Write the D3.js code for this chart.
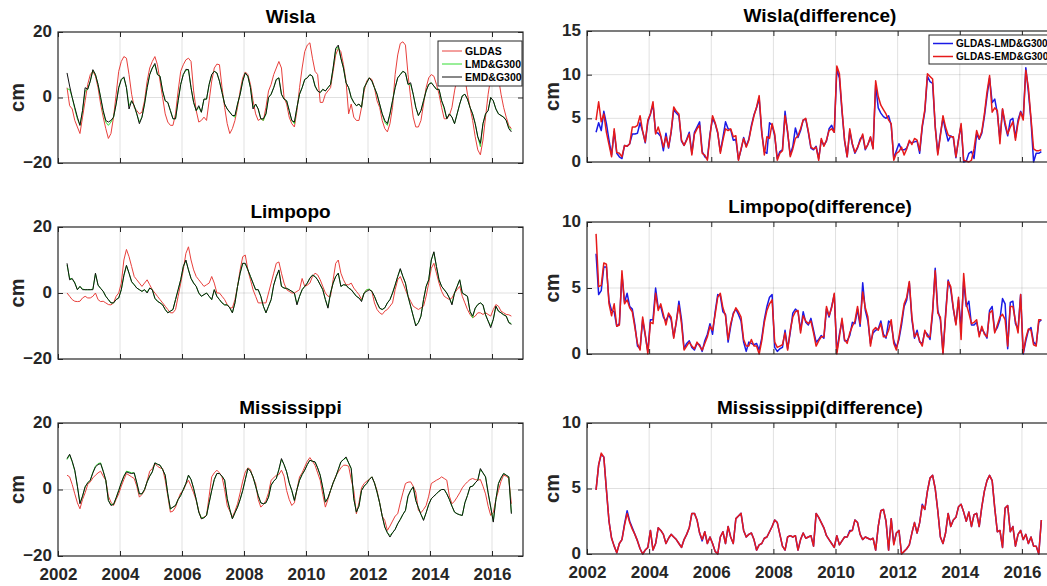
<!DOCTYPE html>
<html>
<head>
<meta charset="utf-8">
<style>
  body { margin:0; background:#fff; }
  text { font-family:"Liberation Sans", Arial, sans-serif; font-weight:bold; }
</style>
</head>
<body>
<script src="https://d3js.org/d3.v7.min.js"></script>
<script>

// ---- DATA (monthly, Apr 2002 .. Aug 2016) ----
const startYear = 2002, startMonth = 4;
const xTicks = [2002, 2004, 2006, 2008, 2010, 2012, 2014, 2016];

const wislaGLDAS = [
  3, -2.5, -3.5, -7, -9, -11, -6, -1, 4,
  7, 8, 6.5, 3, -2, -6, -9.5, -12.5, -11, -6, 1, 8,
  11, 12.5, 12, 7, 1, -3, -4, -5, -4.5, -1, 5, 9,
  11, 12.5, 10, 5, 0, -5, -7.5, -8.5, -8.5, -5, 2, 8,
  10, 11.5, 12, 11, 2, -4, -7.5, -7, -6, -7, -1, 5,
  9, 10.2, 10, 3, -3, -8, -11, -9.5, -7, -3, 2, 6,
  7.8, 7, 4, -1, -5, -7, -6.5, -7, -3, 2, 4, 7,
  9, 11, 9, 0, -2, -6, -8, -9, -4, 3, 9, 14,
  16, 16.7, 12, 8, 7, -1.5, -1.5, 1, 2, 3, 8, 13,
  15, 14, 10, 5, -5, -2, -6, -7, -7, -3, 2, 5,
  6, 5.5, 3, -1, -3, -7, -9.5, -10.5, -8, -3, 7, 13,
  16.5, 17, 16, 7, 0, -6, -9, -9, -7, -2, 3, 6,
  7, 6.5, 4, 1, -3, -6.5, -6.5, -5.5, -3, 2, 6, 9,
  9.5, 6, 1, -3, -7, -12, -16, -17.5, -13, -6, 1, 6,
  8, 9, 6, 1, -3, -6, -8.5, -9.5
];
const wislaLMD = [
  2.6, 2.5, 0, -3.5, -6.5, -8.5, -4, 2, 2.5,
  5, 8.3, 7, 4, 0, -4.5, -7.5, -8.5, -7.5, -6, -2, 3,
  5.5, 6, 3, -2.5, -1, -2.5, -5, -7.5, -6, -2, 3, 7,
  9, 10, 7, 6.5, 2, -1, -1.5, -4, -6.5, -6.5, -1, 4,
  7, 8.3, 8.5, 3, -1.5, -4, -3, -4.5, -0.5, -0.5, 4, 7,
  8, 7.5, 5, 1.5, -2, -3.5, -4.5, -5.5, -6, -2, 1, 5,
  7.5, 6.5, 3, -3, -2, -3.5, -6.5, -7, -5, 0, 1, 3,
  5.5, 6, 1, -0.5, -1, -4, -7, -8, -3, 1, 3, 5.5,
  6, 7, 6.5, 3.5, 2, 1.5, 2.5, 2, 3, 4, 9, 14.5,
  15.5, 12, 9, 4.5, 3, 0, -1.5, -2.5, -2, -3, 3, 4.5,
  6, 5, 3, 1, -2, -5, -7.5, -8.5, -5, -1, 3, 6,
  7, 8, 7.5, 4, 4, 1, -3, -5.5, -4, -1, 2, 4,
  4.5, 3.5, 2.5, 2.5, -1, -3.5, -6.5, -5, -6, -8, -5, -2,
  0.5, 1, -0.5, -3, -5, -8, -12, -15, -8, -5, -4, 0,
  -1, -3.5, -5, -5.5, -6, -7, -9, -10
];
const wislaEMD = [
  7.5, 3.5, 0, -3, -6, -8.5, -4, 3, 2.5,
  5, 8.5, 7, 4, 0, -4, -7, -7.5, -7, -6, -2, 3,
  5.5, 6.3, 3, -3.5, -1, -2.5, -5, -8, -6, -2, 3, 7,
  9, 10.4, 7, 6.5, 2, -1, -1.5, -4, -6.5, -6.5, -1, 4,
  7, 8.6, 8.5, 3, -1.5, -4, -2.5, -4.5, -0.5, -0.5, 4, 7,
  8, 7.5, 5, 1.5, -2, -3.5, -4.5, -5.5, -5.5, -2, 1, 5,
  7.5, 6.5, 3, -3.5, -2, -3.5, -6.5, -6.5, -5, 0, 1, 3,
  5.5, 6, 1, -0.5, -1, -4, -7, -7.5, -3, 1, 3, 5.5,
  6, 7, 6.5, 3.5, 2, 1.5, 2.5, 2, 3, 4, 9, 15,
  16, 12, 9, 4.5, 3, 0, -1.5, -2.5, -2, -3, 3, 4.5,
  6, 5, 3, 1, -2, -5, -7, -8, -5, -1, 3, 6,
  7, 8, 7.5, 4, 4.5, 1, -3, -5.5, -4, -1, 2, 4,
  4.5, 3.5, 2.5, 2.5, -1, -3, -6.5, -5, -6, -8, -5, -2,
  0.5, 1, -0.5, -3, -5, -8, -12, -14, -8, -5, -4, 0,
  -1, -3.5, -5, -5.5, -6, -7, -9.5, -10.5
];

const limpopoGLDAS = [
  0, -1, -2, -2.5, -2.6, -2.5, -1.5, -1, -1.5,
  -1.5, -1, 0, -2, -2.6, -2.5, -3, -3.5, -3.6, -3, -1, 0,
  3, 10, 13.2, 11, 8, 5, 4, 3, 2, 3, 4, 2.5,
  1, 0, -1, -2, -3, -4, -5, -6, -6, -5, -1, 3,
  7, 12, 14, 10, 7, 5, 4, 3, 2, 2.5, 3, 5,
  3, 0, 0, -1, -2, -3.5, -4.5, -4.5, -2, 2, 7, 11,
  11.5, 7, 4, 1, -1, -3, -3, -3, -3, 0, 3, 6,
  9, 9.4, 6, 3, 1, 0.5, 0, 0, 0.5, 1, 4.4, 2,
  2.4, 3, 5, 6, 5.5, 4, 2, 0, -1, -1, 4, 9,
  10, 6, 4, 2.5, 2.5, 3, 1.5, 0.5, -0.5, -2, 0, 1,
  1, 0.5, -3, -5, -6, -6.5, -5.5, -5, -4, -3, 1, 4,
  5, 3, 1, -1, -2.5, -4, -4.5, -5, -4.5, -4, -1, 3,
  7.5, 9, 6, 3, 0.5, -1, -1.5, -2, -1.5, 0, 1, 2,
  -1, -3, -5, -6.5, -7.5, -7, -6, -6, -6.5, -6, -6.5, -7,
  -5, -3.5, -4, -5.5, -6, -6.5, -6.6, -7
];
const limpopoLMD = [
  8.5, 4.5, 4.2, 3.2, 1, 2, 1.2, 1, 1,
  1, 1.2, 5.8, 2.4, 1.4, 0.5, -1, -2, -3, -3, -2, -1.5,
  1, 5.2, 8.2, 6, 3.4, 2.5, 1.5, 1, 0.5, 1, 0.3, 1.5,
  1, -1.6, -2.5, -3, -3.6, -5, -6, -5.5, -5, -2, 1, 4,
  8, 9.8, 7, 4.4, 3, 2, 0, -1, -0.5, 0, -1, -2,
  1, -1, -2, -3, -3.6, -3.6, -4.5, -6, -3, 2, 6, 9,
  8.8, 7, 5, 3, 1, 1, -1, -4, -6, -4, -2, 2.4,
  5, 6.8, 2, 1.5, 1.4, 1, 0.5, 0, -3.3, -1, 1, 2,
  3, 4.5, 5.4, 5, 4, 2.5, 1, -2, -4.3, 0, 3, 5,
  6, 2, 2.5, 2.4, 1.5, 1, 0, -1, -1.5, -2.3, 0, 1,
  1.2, 0.5, -1, -3, -4.6, -5, -4.5, -3, -2, 0, 2.4, 5,
  7.2, 5, 3, -1, -4, -7, -9.7, -9, -7, -2, 2, 4,
  10, 12.3, 8, 4, 2, 1, 0, -1.5, -3.3, 0, 2, 4,
  0, -0.5, -1, -5.6, -7.5, -4.6, -3.5, -3, -3.6, -6.6, -8.5, -10,
  -8, -4, -5.5, -6, -6.6, -7, -8.8, -9.3
];
const limpopoEMD = [
  9, 4, 4.4, 3, 1, 2, 1, 1, 1,
  1, 1, 6, 2.4, 1.4, 0.5, -1, -2, -3, -3, -2, -1.5,
  1, 5.4, 8.4, 6, 3.4, 2.5, 1.5, 1, 0.5, 1, 0, 1.5,
  1, -1.6, -2.5, -3, -3.6, -5, -6, -5.5, -5, -2, 1, 4,
  8, 10, 7, 4.4, 3, 2, 0, -1, -0.5, 0, -1, -2,
  1, -1, -2, -3, -3.6, -3.6, -4.5, -6, -3, 2, 6, 9,
  9, 7, 5, 3, 1, 1, -1, -4, -6, -4, -2, 2.4,
  5, 7, 2, 1.5, 1.4, 1, 0.5, 0, -3.6, -1, 1, 2,
  3, 4.5, 5.4, 5, 4, 2.5, 1, -2, -4.6, 0, 3, 5,
  6, 2, 2.5, 2.4, 1.5, 1, 0, -1, -1.5, -2.6, 0, 0.5,
  1, 0.5, -1, -3, -4.6, -5, -4.5, -3, -2, 0, 2.4, 5,
  7.4, 5, 3, -1, -4, -7, -10, -9, -7, -2, 2, 4,
  10, 12.5, 8, 4, 2, 1, 0, -1.5, -3.6, 0, 2, 4,
  0, -0.5, -1, -5.6, -7, -4.6, -3.5, -3, -3.6, -6.6, -8.5, -10.5,
  -8, -4, -5.5, -6, -6.6, -7, -9, -9.5
];

const mississippiGLDAS = [
  4.3, 3.8, 1.5, -1.3, -4, -5.8, -3, -1, 1.5,
  2.3, 3.5, 4.3, 5, 5.5, 4, 2.8, -2, -3.8, -4.8, -3, -1.3,
  1, 3, 4.8, 4.3, 3.8, 3.3, 1, -2.3, -1.5, -0.3, 2.5, 5.5,
  6.3, 7.8, 7, 6.5, 6.3, 2.8, -2, -6.8, -6.5, -5.3, -3, -1,
  -0.3, 1.5, 2.8, 1, -1, -3.3, -6.5, -8.8, -8.3, -7.8, -2, 3.8,
  5, 5.8, 5, 3.8, 0, -4.8, -6.5, -8.3, -6.5, -4.3, -1, 2.5,
  5.3, 6.5, 6, 3.5, 1.8, -3, -5.3, -4.5, -3.3, -1, 2.8, 3.5,
  4.3, 4.5, 5.8, 4, -0.3, -3, -4.8, -4, 0, 3.8, 5, 6.8,
  8.5, 9.6, 8.5, 7.3, 5, 2.8, -1.5, -5.3, -3, -0.3, 2, 4,
  5.3, 6.5, 7.3, 7.3, 7, 3, -0.3, -7.3, -4, 0.5, 1.8, 2.5,
  3, 3.8, 2, -0.3, -4, -8, -9.3, -12.3, -11, -9.5, -8, -7.3,
  -4, -1, 1.8, 2.2, 2.3, 1, -0.8, -6.3, -7, -6, -4.8, -2,
  1.8, 2.3, 2.8, 3.2, 3.8, 3.3, 2.8, -2, -4.3, -3.5, -2.3, -1,
  0.5, 1.5, 2.3, 3, 3.3, 3, 2.8, 3, 1, -1.3, -5, -7.8,
  -7, -3, -0.3, 2.5, 4.3, 4, 3.3, -4.3
];
const mississippiLMD = [
  9, 10.4, 8.3, 5.6, 1, -4, -2, 0.8, 2,
  2.8, 5.2, 7, 7.8, 8, 5.5, 2.8, -3.3, -4.5, -4.5, -2.5, -0.3,
  2, 4, 5.5, 5.3, 5, 5, 2, -1.3, -1.3, 0, 2.3, 4,
  5.3, 8, 7.6, 7.3, 6, 4.3, -1.3, -6, -5.3, -4.8, -3, -1.8,
  0, 1.8, 4.3, 3, 0.3, -3, -6.8, -8.5, -8.5, -7.8, -4, -0.3,
  3, 4.8, 4.8, 4, 2.8, -2.8, -6, -8.8, -7, -5.3, -3, -0.3,
  3, 6.3, 5.5, 3.8, 1, -1.8, -4, -4.3, -4, -2.3, 1.3, 2.5,
  3.3, 6, 9, 7.5, 5.3, 2, -0.3, -3.3, 0, 2.8, 4.5, 5.8,
  7.5, 8.8, 8.5, 8.3, 6.5, 4.3, 0.5, -3.8, -2.5, -0.3, 2, 3.8,
  6, 8.3, 9, 9.5, 8, 6.3, -2.8, -6.8, -5, -0.3, 1, 1.8,
  3, 3.8, 2, -0.8, -4, -8, -11.3, -13, -13.8, -13, -12, -10.3,
  -9, -7.5, -6.3, -2, -0.3, 0.8, -3.3, -5.5, -7.5, -9, -7, -4.5,
  -2.8, -2, -1.3, -0.5, 0, 0, -1.3, -3, -5, -6.8, -7.3, -7.6,
  -7.8, -4, -1.8, 0.8, 1, 2, 2.8, 6, 5, 3.8, -1, -5.3,
  -9.5, -3, 1.8, 3.5, 4.8, 4.3, 3.8, -7
];
const mississippiEMD = [
  9.3, 10.6, 8.5, 5.8, 1, -4.3, -2, 0.8, 2,
  2.8, 5, 6.8, 7.5, 7.8, 5.5, 2.8, -3.3, -4.8, -4.5, -2.5, -0.3,
  2, 4, 5.3, 5, 4.8, 5, 2, -1.3, -1.3, 0, 2.3, 4,
  5.3, 8, 7.6, 7.3, 6, 4.3, -1.3, -5.8, -5.3, -4.8, -3, -1.8,
  0, 1.8, 4.3, 3, 0.3, -3, -6.8, -8.8, -8.5, -7.8, -4, -0.3,
  3, 4.8, 4.8, 4, 2.8, -2.8, -6, -8.8, -7, -5.3, -3, -0.3,
  3, 6.3, 5.5, 3.8, 1, -1.8, -4, -4.3, -4, -2.3, 1.3, 2.5,
  3.3, 6, 9.3, 7.5, 5.3, 2, -0.3, -3.3, 0, 2.8, 4.5, 5.8,
  7.5, 8.8, 8.5, 8.3, 6.5, 4.3, 0.5, -3.8, -2.5, -0.3, 2, 3.8,
  6, 8.3, 9, 9.8, 8, 6.3, -2.8, -6.8, -5, -0.3, 1, 1.8,
  3, 3.8, 2, -0.8, -4, -8, -11.3, -13, -14.3, -13, -12, -10.3,
  -9, -7.5, -6.3, -2, -0.3, 0.8, -3.3, -5.5, -7.5, -9.3, -7, -4.5,
  -2.8, -2, -1.3, -0.5, 0, 0, -1.3, -3, -5, -6.8, -7.3, -7.6,
  -7.8, -4, -1.8, 0.8, 1, 2, 2.8, 6.3, 5, 3.8, -1, -5.3,
  -9.8, -3, 1.8, 3.5, 4.8, 4.3, 3.8, -7.3
];

// differences GLDAS - model
const wislaDiffLMD = [
  3.4, 4.5, 3.6, 5.8, 4.4, 2.5, 0.8, 3.5, 1,
  0.6, 0.4, 1.9, 1.8, 2.1, 3.2, 3.2, 3.3, 4.5, 3.5, 2.2, 4.6,
  5.5, 6.6, 3.4, 3.3, 2.9, 1.3, 3.3, 1.6, 3.4, 6, 5.6, 5.3,
  2.4, 1.9, 2.6, 3.4, 1, 3.4, 4, 4.6, 1.2, 0.6, 0.4, 3.2,
  5, 4.4, 3.3, 1.2, 2.8, 4.6, 3.8, 3.7, 2.5, 2.6, 0.3, 1.4,
  2.8, 1.8, 2.6, 4.2, 5.4, 6.2, 7.3, 3.3, 1.2, 1, 4.5, 4.2,
  3, 0.4, 1.2, 1.4, 5.8, 3.3, 0.8, 1.8, 3.9, 2.8, 3.6, 4.8,
  4.9, 3.4, 1.6, 1.4, 1.8, 0.4, 2.5, 1.9, 2.4, 3.8, 4.2, 3.4,
  10.6, 9.6, 5.8, 2.4, 0.6, 3.6, 2, 1, 1.6, 2.6, 3, 1.4,
  2, 2.8, 1.6, 8.8, 6.2, 5.6, 5.2, 5, 5.3, 4.2, 0.4, 1.3,
  2.1, 1.4, 1.4, 1.6, 2.3, 2.2, 2.3, 2.4, 1, 4, 5.8, 9.8,
  9.2, 9, 4.1, 1, 3.2, 5, 3.6, 2.4, 3, 2.8, 0.5, 2.6,
  4.2, 0, 0.1, 1, 1.2, 0.4, 3.2, 2.6, 3.3, 5.2, 7.5, 9.6,
  6.8, 7.2, 5.6, 2.6, 6, 4.2, 3, 4.8, 5, 2.8, 4.8, 5.8,
  5, 10.8, 8, 4.8, 0, 1, 1, 1.2
];
const wislaDiffEMD = [
  4.8, 6.9, 4.6, 5.5, 3.4, 2, 0.6, 3.8, 1.1,
  1, 0.6, 1.9, 1.8, 2.1, 4, 4, 4.2, 5.3, 3.5, 2.3, 4.8,
  5.5, 6.9, 3.2, 4, 3, 1.7, 2.9, 1.7, 3.5, 6.3, 5.8, 5.5,
  2.5, 1.9, 2.5, 3.2, 0.8, 3.2, 3.8, 4.2, 1, 0.8, 0.2, 3,
  5.3, 4.5, 3.4, 1, 2.5, 3.8, 3.6, 3.8, 2.9, 3, 0.2, 1.5,
  2.7, 1.7, 2.5, 4, 5.3, 6.3, 7.6, 3.5, 0.8, 2.9, 2.7, 4.4,
  3.2, 0.2, 1, 1.3, 5.3, 3.5, 0.6, 1.5, 2.7, 3, 3.8, 4.8,
  5, 3.5, 1.7, 1.5, 1.7, 0.2, 2.7, 1.8, 2.5, 3.6, 3.8, 3.4,
  11, 10.1, 6, 2.5, 0.6, 3.8, 2.1, 1.1, 1.7, 2.4, 3.2, 1.5,
  2, 2.9, 1.5, 9.3, 7.5, 6.5, 6, 5.5, 4.8, 4.4, 0.2, 1,
  1.2, 1.7, 0.8, 1.5, 2.5, 2, 2.7, 2.5, 1.3, 4.2, 6, 10.1,
  9.8, 9.5, 4, 0.8, 3, 5.3, 4, 3.1, 2.9, 2.9, 0.6, 2.5,
  4.4, 0.2, 0.1, 0, 0.2, 1.5, 3.6, 2.7, 3.5, 5.5, 8, 9.9,
  5.7, 6.2, 5.9, 2.1, 6.1, 4.5, 3.2, 4, 4.6, 2.5, 4.5, 5.7,
  4.8, 10.5, 8.5, 5, 1.5, 1.3, 1.3, 1.4
];
const limpopoDiffLMD = [
  7.6, 4.5, 4.8, 6.6, 6.6, 4, 3.3, 3.2, 2.1,
  2.3, 6, 3.9, 4.6, 3.6, 3.4, 2.2, 0.6, 0.4, 2.6, 1.4, 0.2,
  2.6, 2.6, 5, 3.5, 3.6, 2.8, 2.5, 3, 2.6, 1.3, 2.4, 4,
  2.6, 0.4, 0.8, 1, 0.5, 0.3, 0.8, 0.7, 0.2, 1, 1.5, 2.3,
  1.5, 3.2, 4.5, 4.4, 3.2, 3, 0.9, 2.1, 3.1, 3.4, 3, 2.5,
  0.9, 0.2, 0.9, 0.8, 0.7, 0.8, 0.3, 1.2, 2.6, 3.6, 4.3, 4.5,
  0.5, 0.2, 0.4, 0.5, 1.8, 0.4, 1.6, 3.1, 3.4, 3.2, 1.8, 3.2,
  2.4, 2.2, 2.7, 1.8, 0.9, 1.1, 1.4, 1.2, 3.4, 2.8, 3.6, 4.5,
  0.2, 1.5, 2.5, 1, 1, 1.4, 2.4, 2.3, 3.4, 2.1, 5.4, 3.3,
  2.5, 0.8, 1.6, 1.8, 1.9, 2.5, 1.5, 1.2, 2.5, 2.3, 1, 0.5,
  1.1, 2.2, 3.6, 4.1, 5.4, 2.6, 1.2, 1.8, 0.9, 0.8, 1.7, 1.5,
  1.1, 3.1, 6.5, 3.3, 2.6, 0.1, 3, 5.6, 4.9, 3.4, 2.3, 4.1,
  2, 5.5, 3.6, 4, 2.2, 2.2, 2.4, 1.5, 1.9, 1.6, 1.2, 3.3,
  3.6, 1.7, 2, 2.6, 4.2, 3.8, 0.4, 3.9, 4, 2.3, 1.9, 4.5,
  0, 1, 1.8, 2, 0.9, 0.7, 2.4, 2.6
];
const limpopoDiffEMD = [
  9.1, 5.1, 5.2, 6.9, 6.8, 3.8, 2.9, 3.8, 2.1,
  2.2, 6.3, 3.8, 4.1, 3.5, 3.2, 2, 0.8, 0.3, 2.8, 1.5, 0,
  2.4, 2.3, 4.6, 3.3, 3.8, 3, 2.2, 3.1, 2.8, 1.2, 2.5, 3.7,
  2.3, 0.3, 0.6, 0.9, 0.6, 0.4, 0.9, 0.6, 0.3, 0.8, 1.3, 2.1,
  1.8, 3, 4.3, 4.6, 3.5, 2.9, 1.1, 2.3, 3, 3.5, 3.2, 2.8,
  1.1, 0.6, 0.6, 1.1, 0.6, 0.6, 0, 1, 2.4, 3.3, 3.8, 4.1,
  0.9, 0.5, 0.6, 0.7, 1.6, 0.3, 1.8, 2.8, 3.2, 3.3, 1.6, 2.9,
  2.5, 2.3, 2.5, 1.6, 0.6, 1, 1.3, 1.3, 3.6, 2.9, 3.5, 4.6,
  0, 1.3, 2.7, 1.1, 0.8, 1.6, 2.1, 2.5, 3.6, 2.3, 4.7, 3.5,
  2.8, 0.6, 1.8, 2, 1.8, 2.3, 1.3, 1.3, 1.8, 2.6, 0.8, 0.3,
  1.3, 2.5, 3.8, 4.3, 5.5, 2.8, 1.3, 1.6, 1, 0.6, 1.8, 1.3,
  1.3, 3.3, 6.3, 3.1, 2.8, 0, 2.8, 5.5, 5.1, 3.5, 2.2, 4.3,
  1.1, 6.1, 3.8, 3.1, 2.3, 2.4, 2.6, 1.3, 2.1, 1.5, 1.3, 3.1,
  3.3, 1.6, 2.2, 2.8, 3, 2.6, 0.6, 3.6, 3.6, 2.5, 1.6, 4.5,
  0.1, 1.2, 1.9, 1.8, 0.7, 0.6, 2.6, 2.6
];
const mississippiDiffLMD = [
  4.9, 6.8, 7.6, 7.4, 4.9, 2.5, 1.2, 0.6, 0.1,
  0.8, 1.1, 2.3, 3.3, 2.5, 2, 1.5, 1, 0.4, 0, 0.3, 0.5,
  1.8, 0.3, 0.8, 2, 1.8, 1.5, 0.8, 1.2, 1.5, 1.3, 1.1, 0.8,
  0.5, 1.1, 1.5, 2, 3.1, 3.1, 2.6, 1.6, 1, 1.7, 0.8, 1.3,
  0.8, 0.2, 0, 1.3, 1.7, 0.8, 2.1, 1.3, 0.8, 2.7, 2.9, 3.1,
  1.8, 1.3, 1.5, 1.6, 1.1, 0.3, 0.7, 0.8, 1.2, 1.3, 1.7, 2.1,
  2.6, 2.4, 1.5, 0.6, 0.3, 1.3, 1.4, 1.3, 1.4, 0.3, 1.1, 1.6,
  1.2, 1.3, 1.4, 0.6, 3.1, 2.8, 2.4, 2, 1.4, 1.1, 0.8, 0.5,
  1.4, 0.7, 1, 1.3, 1.3, 1.8, 1.8, 2.6, 2.4, 1.5, 1.1, 1.3,
  1.2, 1.1, 1.2, 0.3, 2.1, 3.3, 3.4, 2.5, 0.3, 2.7, 0.8, 1.6,
  1.8, 0, 0.2, 0.4, 0.7, 1.6, 2.4, 1.6, 2.4, 3.8, 3.4, 4.8,
  5.8, 6, 5, 3.3, 1.3, 0.8, 1.6, 3.1, 2.1, 2.6, 2.8, 3.6,
  3.8, 3.2, 2.5, 3.2, 2.1, 3, 3.1, 2.1, 3.6, 4.8, 5.6, 6,
  5.6, 3.5, 1.7, 1.8, 0.5, 3.5, 3.7, 1.7, 2.1, 0.6, 1.5, 1.8,
  1.1, 1.5, 0.8, 1.3, 0.6, 0.6, 0, 2.6
];
const mississippiDiffEMD = [
  4.9, 6.8, 7.7, 7.4, 4.9, 2.5, 1.2, 0.6, 0.1,
  0.8, 1.1, 2.2, 3.1, 2.4, 1.9, 1.5, 1, 0.4, 0, 0.3, 0.5,
  1.8, 0.3, 0.8, 2, 1.8, 1.5, 0.8, 1.2, 1.5, 1.3, 1.1, 0.8,
  0.5, 1.1, 1.5, 2, 3.1, 3.1, 2.6, 1.6, 1.1, 1.7, 0.8, 1.3,
  0.8, 0.2, 0, 1.3, 1.7, 0.8, 2.1, 1.3, 0.8, 2.7, 2.9, 3.1,
  1.8, 1.3, 1.5, 1.6, 1.1, 0.3, 0.7, 0.8, 1.2, 1.3, 1.7, 2.1,
  2.6, 2.4, 1.5, 0.6, 0.3, 1.3, 1.4, 1.3, 1.4, 0.3, 1.1, 1.6,
  1.2, 1.3, 1.4, 0.6, 3.1, 2.8, 2.4, 2, 1.4, 1.1, 0.8, 0.5,
  1.4, 0.7, 1, 1.3, 1.3, 1.7, 1.8, 2.6, 2.4, 1.5, 1.1, 1.3,
  1.2, 1.1, 1.2, 0.3, 2.1, 3.3, 3.4, 2.5, 0.3, 2.7, 0.7, 1.6,
  1.8, 0, 0.2, 0.4, 0.7, 1.6, 2.4, 1.6, 2.4, 3.7, 3.4, 4.8,
  5.8, 6, 5, 3.3, 1.3, 0.8, 1.6, 3.1, 2.1, 2.6, 2.8, 3.6,
  3.8, 3.2, 2.5, 3.2, 2.1, 3, 3.1, 2.1, 3.6, 4.8, 5.6, 6,
  5.6, 3.5, 1.7, 1.8, 0.5, 3.5, 3.7, 1.7, 2.1, 0.6, 1.5, 1.8,
  1.1, 1.5, 0.8, 1.3, 0.6, 0.6, 0, 2.6
];

// ---- LAYOUT ----
const W = 1047, H = 586;
const cols = [{x0: 58, x1: 523, labelOff: 34}, {x0: 587, x1: 1053, labelOff: 28}];
const rowsLeft = [[32, 163], [227, 359], [423, 556]];
const rowsRight = [[31, 162], [222, 354], [423, 554]];

const red = "#e8403c", green = "#33dd33", black = "#111111";
const blue2 = "#1a1ae6", red2 = "#e61a1a";
const axisColor = "#262626";

const svg = d3.select("body").append("svg")
  .attr("width", W)
  .attr("height", H);

// month index -> decimal year
function monthT(i) { return startYear + (startMonth - 1 + i + 0.5) / 12; }

const panels = [
  {col: 0, row: 0, title: "Wisla", yDomain: [-20, 20], yTicks: [-20, 0, 20], lw: 1,
   series: [{v: wislaGLDAS, c: red, name: "GLDAS"}, {v: wislaLMD, c: green, name: "LMD&G300"}, {v: wislaEMD, c: black, name: "EMD&G300"}],
   legend: {x: 438, y: 41, w: 84, h: 45, rows: [51, 64, 77], fs: 10.5}},
  {col: 0, row: 1, title: "Limpopo", yDomain: [-20, 20], yTicks: [-20, 0, 20], lw: 1,
   series: [{v: limpopoGLDAS, c: red}, {v: limpopoLMD, c: green}, {v: limpopoEMD, c: black}]},
  {col: 0, row: 2, title: "Mississippi", yDomain: [-20, 20], yTicks: [-20, 0, 20], lw: 1, xLabels: true,
   series: [{v: mississippiGLDAS, c: red}, {v: mississippiLMD, c: green}, {v: mississippiEMD, c: black}]},
  {col: 1, row: 0, title: "Wisla(difference)", yDomain: [0, 15], yTicks: [0, 5, 10, 15], lw: 1.5,
   series: [{v: wislaDiffLMD, c: blue2, name: "GLDAS-LMD&G300"}, {v: wislaDiffEMD, c: red2, name: "GLDAS-EMD&G300"}],
   legend: {x: 929, y: 35, w: 130, h: 29, rows: [43.5, 56.5], fs: 10}},
  {col: 1, row: 1, title: "Limpopo(difference)", yDomain: [0, 10], yTicks: [0, 5, 10], lw: 1.5,
   series: [{v: limpopoDiffLMD, c: blue2}, {v: limpopoDiffEMD, c: red2}]},
  {col: 1, row: 2, title: "Mississippi(difference)", yDomain: [0, 10], yTicks: [0, 5, 10], lw: 1.5, xLabels: true,
   series: [{v: mississippiDiffLMD, c: blue2}, {v: mississippiDiffEMD, c: red2}]}
];

panels.forEach(drawPanel);

function drawPanel(p) {
  const col = cols[p.col];
  const [top, bottom] = (p.col === 0 ? rowsLeft : rowsRight)[p.row];

  const x = d3.scaleLinear().domain([2002, 2017]).range([col.x0, col.x1]);
  const y = d3.scaleLinear().domain(p.yDomain).range([bottom, top]);

  const g = svg.append("g");

  // grid
  g.append("g").selectAll("line.vg")
    .data(xTicks.filter(d => d > 2002))
    .enter().append("line")
      .attr("x1", d => x(d)).attr("x2", d => x(d))
      .attr("y1", top).attr("y2", bottom)
      .attr("stroke", "#000").attr("stroke-opacity", 0.12).attr("stroke-width", 1);
  g.append("g").selectAll("line.hg")
    .data(p.yTicks.filter(d => d > p.yDomain[0] && d < p.yDomain[1]))
    .enter().append("line")
      .attr("x1", col.x0).attr("x2", col.x1)
      .attr("y1", d => y(d)).attr("y2", d => y(d))
      .attr("stroke", "#000").attr("stroke-opacity", 0.12).attr("stroke-width", 1);

  // series
  const line = d3.line()
    .x((d, i) => x(monthT(i)))
    .y(d => y(d));
  p.series.forEach(s => {
    g.append("path")
      .datum(s.v)
      .attr("fill", "none")
      .attr("stroke", s.c)
      .attr("stroke-width", p.lw)
      .attr("stroke-linejoin", "round")
      .attr("d", line);
  });

  // axes (ticks pointing inward, MATLAB style)
  const fmt = p.xLabels ? d3.format("d") : () => "";
  const styleAxis = sel => {
    sel.attr("font-size", 17).attr("font-family", null).attr("color", axisColor);
    sel.select(".domain").remove();
  };
  g.append("g").attr("transform", `translate(0,${bottom})`)
    .call(d3.axisBottom(x).tickValues(xTicks).tickFormat(fmt).tickSizeInner(-5).tickSizeOuter(0).tickPadding(11.5))
    .call(styleAxis);
  g.append("g").attr("transform", `translate(0,${top})`)
    .call(d3.axisTop(x).tickValues(xTicks).tickFormat("").tickSizeInner(-5).tickSizeOuter(0))
    .call(styleAxis);
  g.append("g").attr("transform", `translate(${col.x0},0)`)
    .call(d3.axisLeft(y).tickValues(p.yTicks).tickFormat(d3.format("d")).tickSizeInner(-5).tickSizeOuter(0).tickPadding(6))
    .call(styleAxis)
    .selectAll("text").attr("dy", "0.26em");
  g.append("g").attr("transform", `translate(${col.x1},0)`)
    .call(d3.axisRight(y).tickValues(p.yTicks).tickFormat("").tickSizeInner(-5).tickSizeOuter(0))
    .call(styleAxis);

  // box
  g.append("rect")
    .attr("x", col.x0).attr("y", top)
    .attr("width", col.x1 - col.x0).attr("height", bottom - top)
    .attr("fill", "none").attr("stroke", axisColor).attr("stroke-width", 1.2);

  // title
  g.append("text")
    .attr("x", (col.x0 + col.x1) / 2)
    .attr("y", top - 9)
    .attr("text-anchor", "middle")
    .attr("font-size", 19)
    .attr("fill", "#000")
    .text(p.title);

  // y label
  g.append("text")
    .attr("transform", `translate(${col.x0 - col.labelOff},${(top + bottom) / 2}) rotate(-90)`)
    .attr("text-anchor", "middle")
    .attr("font-size", 20)
    .attr("fill", axisColor)
    .text("cm");

  // legend
  if (p.legend) {
    const L = p.legend;
    const lg = g.append("g");
    lg.append("rect")
      .attr("x", L.x).attr("y", L.y).attr("width", L.w).attr("height", L.h)
      .attr("fill", "#fff").attr("stroke", axisColor).attr("stroke-width", 1);
    p.series.forEach((s, i) => {
      lg.append("line")
        .attr("x1", L.x + 4).attr("x2", L.x + 24)
        .attr("y1", L.rows[i]).attr("y2", L.rows[i])
        .attr("stroke", s.c).attr("stroke-width", p.lw);
      lg.append("text")
        .attr("x", L.x + 27).attr("y", L.rows[i])
        .attr("dy", "0.35em")
        .attr("font-size", L.fs)
        .attr("fill", "#000")
        .text(s.name);
    });
  }
}

</script>
</body>
</html>
